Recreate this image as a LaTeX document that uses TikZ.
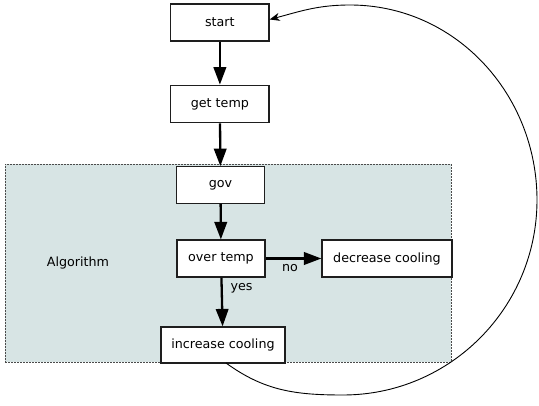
\documentclass[tikz,border=0pt]{standalone}
\usepackage{fontspec}
\setmainfont{DejaVu Sans}
\usetikzlibrary{arrows.meta}
\definecolor{regionfill}{RGB}{215,228,228}
\definecolor{boxline}{RGB}{30,30,30}
\tikzset{
  box/.style={draw=boxline, line width=1.2pt, fill=white, inner sep=0pt, font=\fontsize{12.7}{14}\selectfont},
  region/.style={draw=boxline!80, fill=regionfill, line width=0.9pt, dash pattern=on 1.6pt off 1.4pt, inner sep=0pt},
  flow/.style={line width=2.3pt, -{Triangle[length=17.5pt,width=12.5pt]}},
  loop/.style={line width=0.9pt, -{Stealth[length=10pt,width=8pt,inset=3pt]}},
  lbl/.style={font=\fontsize{12.7}{14}\selectfont, inner sep=0pt},
}
\begin{document}
\begin{tikzpicture}[x=1pt,y=1pt]
\useasboundingbox (0,0) rectangle (539,-406);
\node[region, minimum width=446pt, minimum height=198pt] (alg) at (228,-263) {};
\node[lbl] (alglbl) at (78,-263) {Algorithm};
\node[box, minimum width=98.3pt, minimum height=37pt] (start) at (219.9,-22.5) {start};
\node[box, minimum width=98.3pt, minimum height=37.5pt] (get) at (219.9,-104) {get temp};
\node[box, minimum width=88.5pt, minimum height=36.6pt] (gov) at (220.5,-185) {gov};
\node[box, minimum width=88pt, minimum height=37pt] (over) at (221,-258.5) {over temp};
\node[box, minimum width=130pt, minimum height=37pt] (dec) at (387,-258.5) {decrease cooling};
\node[box, minimum width=124pt, minimum height=36pt] (inc) at (223,-345) {increase cooling};
\draw[flow] (start) -- (get);
\draw[flow] (get) -- (gov);
\draw[flow] (gov) -- (over);
\draw[flow] (over) -- (dec);
\draw[flow] (over) -- (inc);
\node[lbl] (nolbl) at (290,-268.5) {no};
\node[lbl] (yeslbl) at (241.5,-288) {yes};
\coordinate (cstart) at (226,-363);
\coordinate (cbot) at (343,-395);
\coordinate (cright) at (537,-200);
\coordinate (ctop) at (350,-5);
\draw[loop] (cstart) to[out=-36,in=180] (cbot) to[out=0,in=-90] (cright)
  to[out=90,in=0] (ctop) to[out=180,in=15] ([yshift=3pt]start.east);
\end{tikzpicture}
\end{document}
